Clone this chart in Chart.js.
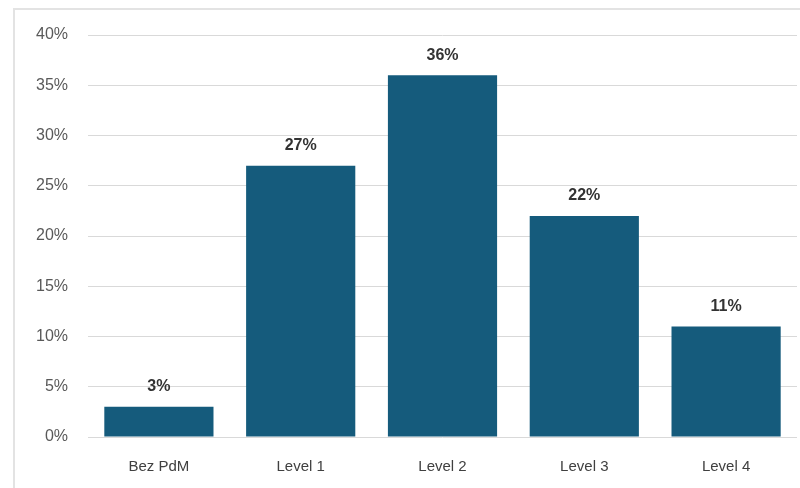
<!DOCTYPE html>
<html>
<head>
<meta charset="utf-8">
<script src="https://cdn.jsdelivr.net/npm/chart.js@4"></script>
<style>
  html, body { margin: 0; padding: 0; background: #fff; }
  #wrap { position: relative; width: 800px; height: 488px; overflow: hidden; }
  #frame { position: absolute; left: 13px; top: 8px; right: -2px; bottom: -2px;
           border-top: 2px solid #e3e3e3; border-left: 2px solid #e3e3e3; }
  canvas { position: absolute; left: 0; top: 0; }
</style>
</head>
<body>
<div id="wrap">
  <div id="frame"></div>
  <canvas id="levelChart" width="800" height="488"></canvas>
</div>
<script>
const categories = ['Bez PdM', 'Level 1', 'Level 2', 'Level 3', 'Level 4'];
const shares = [3, 27, 36, 22, 11];
const yTicks = [0, 5, 10, 15, 20, 25, 30, 35, 40];

const barColor = '#155b7c';
const font = 'Liberation Sans';

// writes the value above each bar
const valueLabels = {
  id: 'valueLabels',
  afterDatasetsDraw(chart) {
    const ctx = chart.ctx;
    const meta = chart.getDatasetMeta(0);
    ctx.save();
    ctx.font = `bold 16px "${font}"`;
    ctx.fillStyle = '#333333';
    ctx.textAlign = 'center';
    ctx.textBaseline = 'bottom';
    meta.data.forEach((bar, i) => {
      ctx.fillText(shares[i] + '%', bar.x, bar.y - 12);
    });
    ctx.restore();
  }
};

new Chart(document.getElementById('levelChart').getContext('2d'), {
  type: 'bar',
  data: {
    labels: categories,
    datasets: [{
      data: shares,
      backgroundColor: barColor,
      borderWidth: 0,
      categoryPercentage: 0.77,
      barPercentage: 1
    }]
  },
  options: {
    responsive: false,
    animation: false,
    layout: { padding: { top: 35, right: 3, left: 0, bottom: 0 } },
    plugins: {
      legend: { display: false },
      tooltip: { enabled: false }
    },
    scales: {
      x: {
        grid: { display: false, drawTicks: false },
        border: { display: false },
        ticks: {
          padding: 21,
          color: '#404040',
          font: { family: font, size: 15 }
        },
        afterFit(scale) { scale.height = 51; }
      },
      y: {
        min: 0,
        max: 40,
        afterBuildTicks(scale) { scale.ticks = yTicks.map(v => ({ value: v })); },
        grid: { color: '#d9d9d9', lineWidth: 1, drawTicks: false },
        border: { display: false },
        ticks: {
          padding: 20,
          color: '#595959',
          font: { family: font, size: 16 },
          callback: v => v + '%'
        },
        afterFit(scale) { scale.width = 88; }
      }
    }
  },
  plugins: [valueLabels]
});
</script>
</body>
</html>
